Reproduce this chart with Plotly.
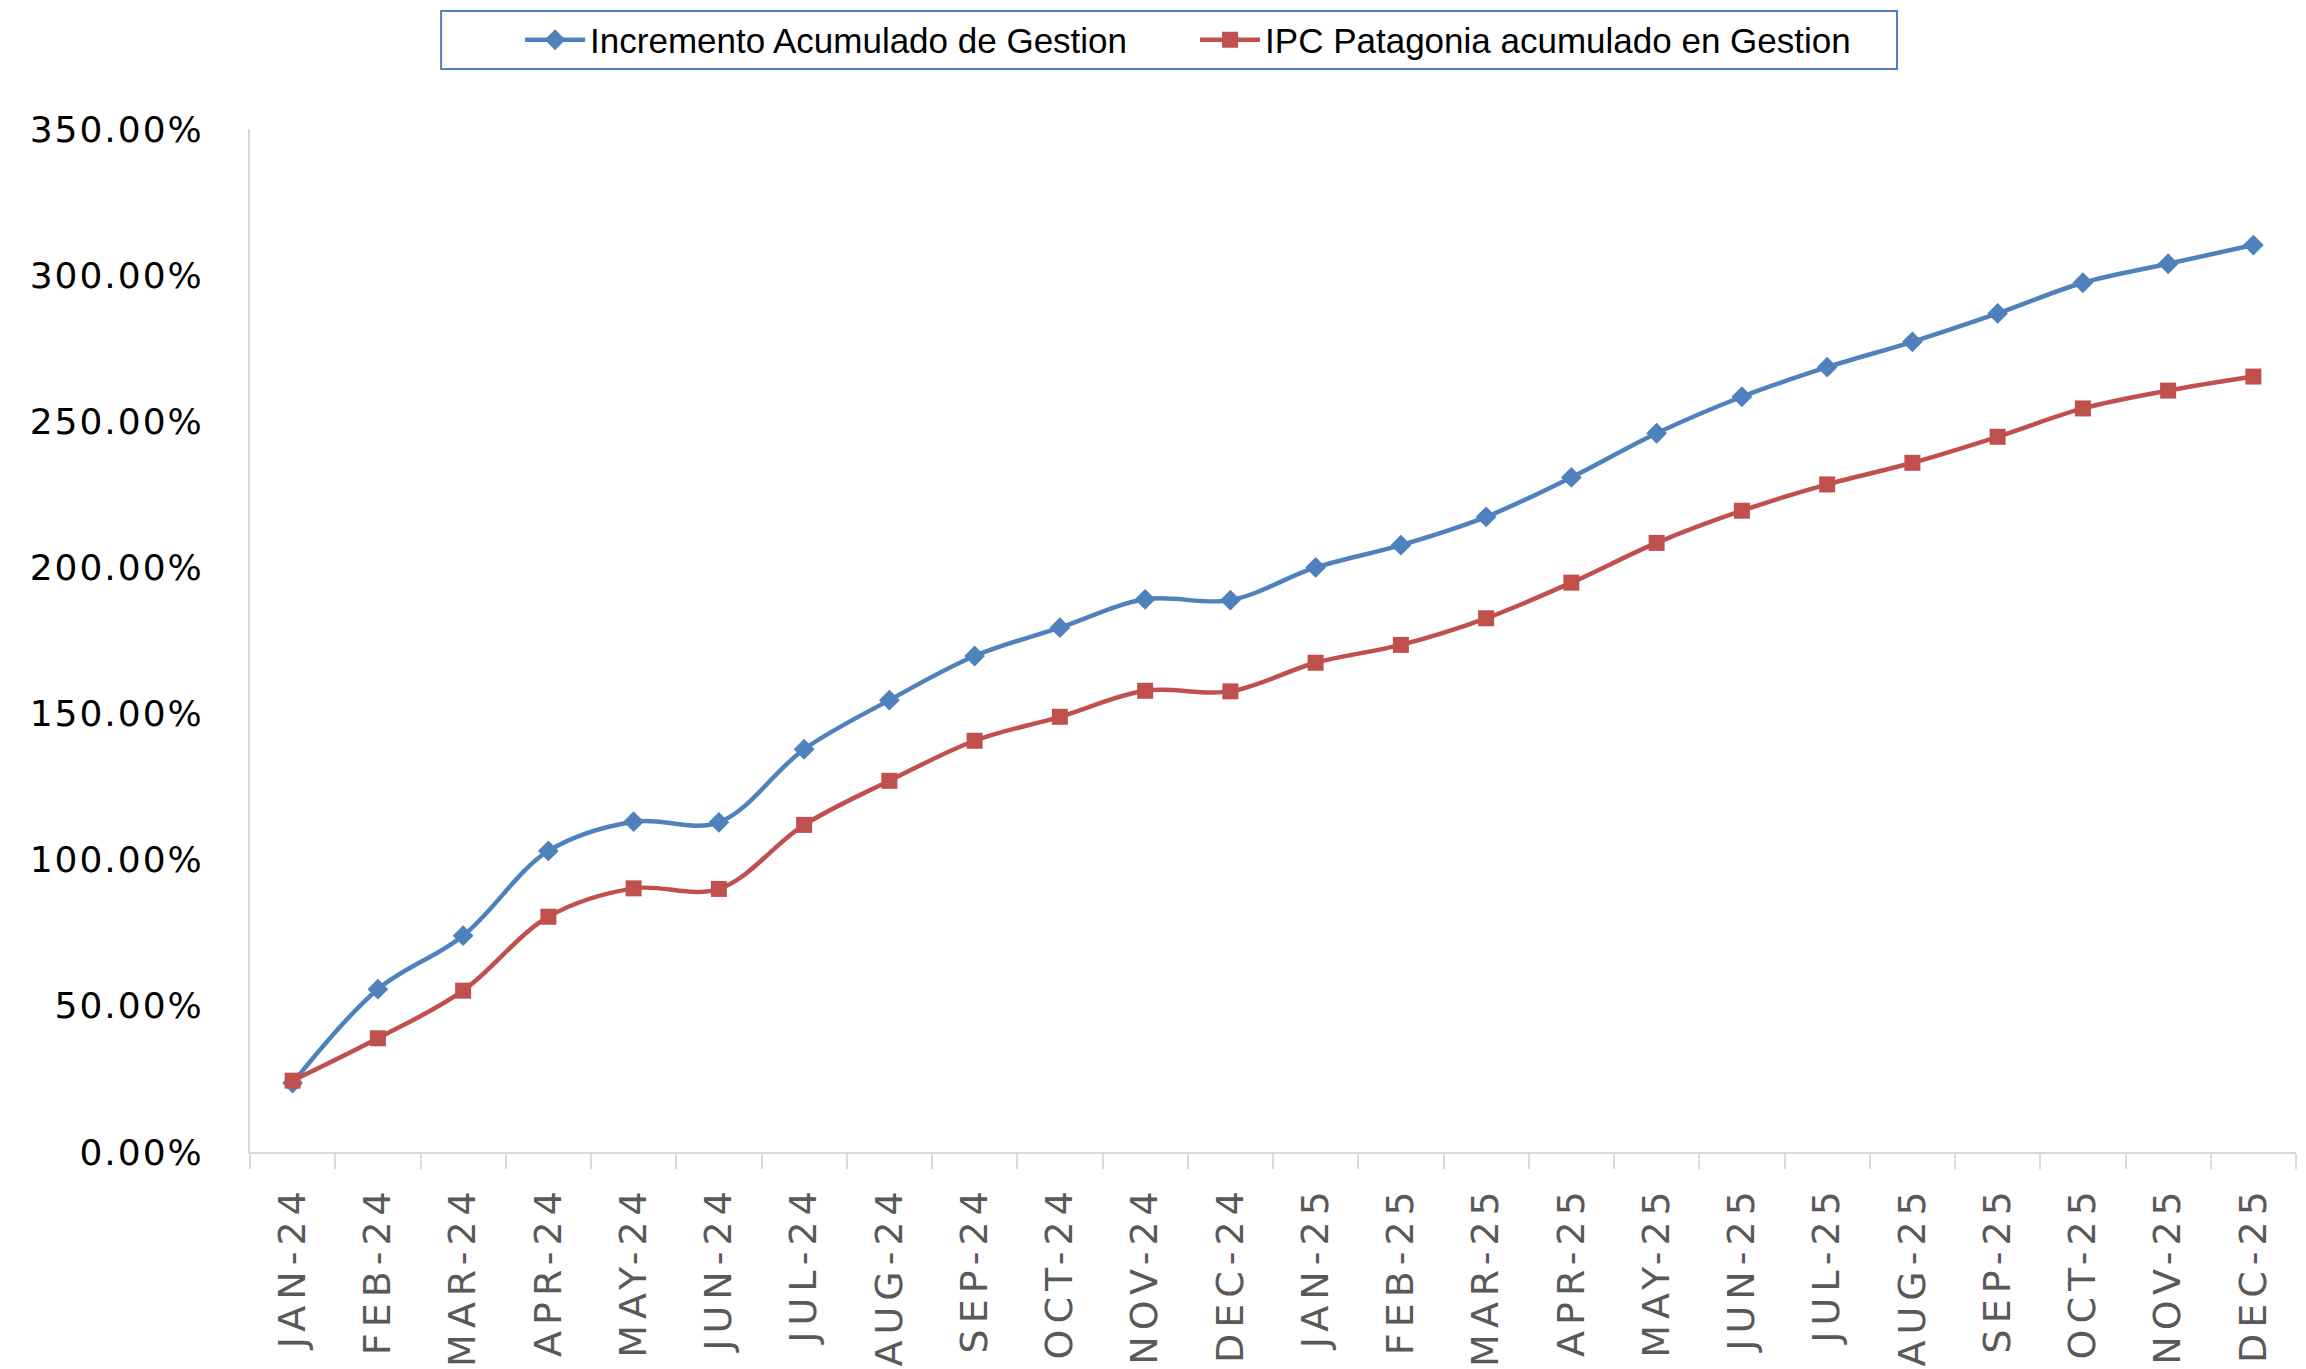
"""
Incremento acumulado de gestion vs IPC Patagonia, Jan-24 .. Dec-25.
"""

import plotly.graph_objects as go

# months on the category axis
months = [
    "JAN-24", "FEB-24", "MAR-24", "APR-24", "MAY-24", "JUN-24",
    "JUL-24", "AUG-24", "SEP-24", "OCT-24", "NOV-24", "DEC-24",
    "JAN-25", "FEB-25", "MAR-25", "APR-25", "MAY-25", "JUN-25",
    "JUL-25", "AUG-25", "SEP-25", "OCT-25", "NOV-25", "DEC-25",
]

# cumulative values in percent
incremento = [
    23.6, 55.7, 74.0, 103.0, 113.0, 112.8,
    137.8, 154.6, 169.7, 179.4, 189.1, 188.8,
    200.0, 207.6, 217.3, 230.8, 245.9, 258.4,
    268.5, 277.2, 286.9, 297.4, 303.9, 310.3,
]
ipc = [
    24.4, 38.9, 55.2, 80.5, 90.2, 90.0,
    111.9, 127.0, 140.7, 148.9, 157.8, 157.6,
    167.4, 173.5, 182.6, 194.8, 208.4, 219.4,
    228.4, 235.8, 244.7, 254.4, 260.5, 265.3,
]

y_ticks = [0, 50, 100, 150, 200, 250, 300, 350]

BLUE = "#4F81BD"
RED = "#C0504D"
AXIS = "#D9D9D9"

fig = go.Figure()

fig.add_trace(go.Scatter(
    name="Incremento Acumulado de Gestion",
    x=months,
    y=incremento,
    mode="lines+markers",
    line=dict(color=BLUE, width=4.5, shape="spline", smoothing=1),
    marker=dict(symbol="diamond", size=16, color=BLUE),
))

fig.add_trace(go.Scatter(
    name="IPC Patagonia acumulado en Gestion",
    x=months,
    y=ipc,
    mode="lines+markers",
    line=dict(color=RED, width=4.5, shape="spline", smoothing=1),
    marker=dict(symbol="square", size=16, color=RED),
))

# frame around the legend (legend itself has no border)
fig.add_shape(
    type="rect", xref="paper", yref="paper",
    x0=0.0934, x1=0.805, y0=1.0587, y1=1.1153,
    line=dict(color=BLUE, width=2),
    fillcolor="rgba(0,0,0,0)",
)

fig.update_layout(
    width=2306,
    height=1369,
    margin=dict(l=242, r=18, t=121, b=225, autoexpand=False),
    plot_bgcolor="white",
    paper_bgcolor="white",
    showlegend=True,
    legend=dict(
        orientation="h",
        x=0.132,
        xanchor="left",
        y=1.087,
        yanchor="middle",
        borderwidth=0,
        bgcolor="rgba(0,0,0,0)",
        itemwidth=60,
        font=dict(family="Liberation Sans", size=35, color="black"),
        entrywidth=600,
    ),
)

fig.update_xaxes(
    type="category",
    range=[-0.5, len(months) - 0.5],
    tickmode="array",
    tickvals=months,
    ticktext=[f'<span style="letter-spacing:6px">{m}</span>' for m in months],
    tickangle=-90,
    tickson="boundaries",
    ticks="outside",
    ticklen=15,
    tickcolor=AXIS,
    tickwidth=2,
    showline=True,
    linecolor=AXIS,
    linewidth=2,
    showgrid=False,
    zeroline=False,
    automargin=False,
    ticklabelstandoff=16,
    tickfont=dict(family="DejaVu Sans", size=38, color="#595959"),
)

fig.update_yaxes(
    range=[0, 350],
    tickmode="array",
    tickvals=y_ticks,
    ticktext=[f'<span style="letter-spacing:2px">{v:.2f}%</span>' for v in y_ticks],
    ticks="",
    showline=True,
    linecolor=AXIS,
    linewidth=2,
    showgrid=False,
    zeroline=False,
    automargin=False,
    ticklabelstandoff=37,
    tickfont=dict(family="DejaVu Sans", size=36, color="black"),
)

fig.write_html("out.html")
